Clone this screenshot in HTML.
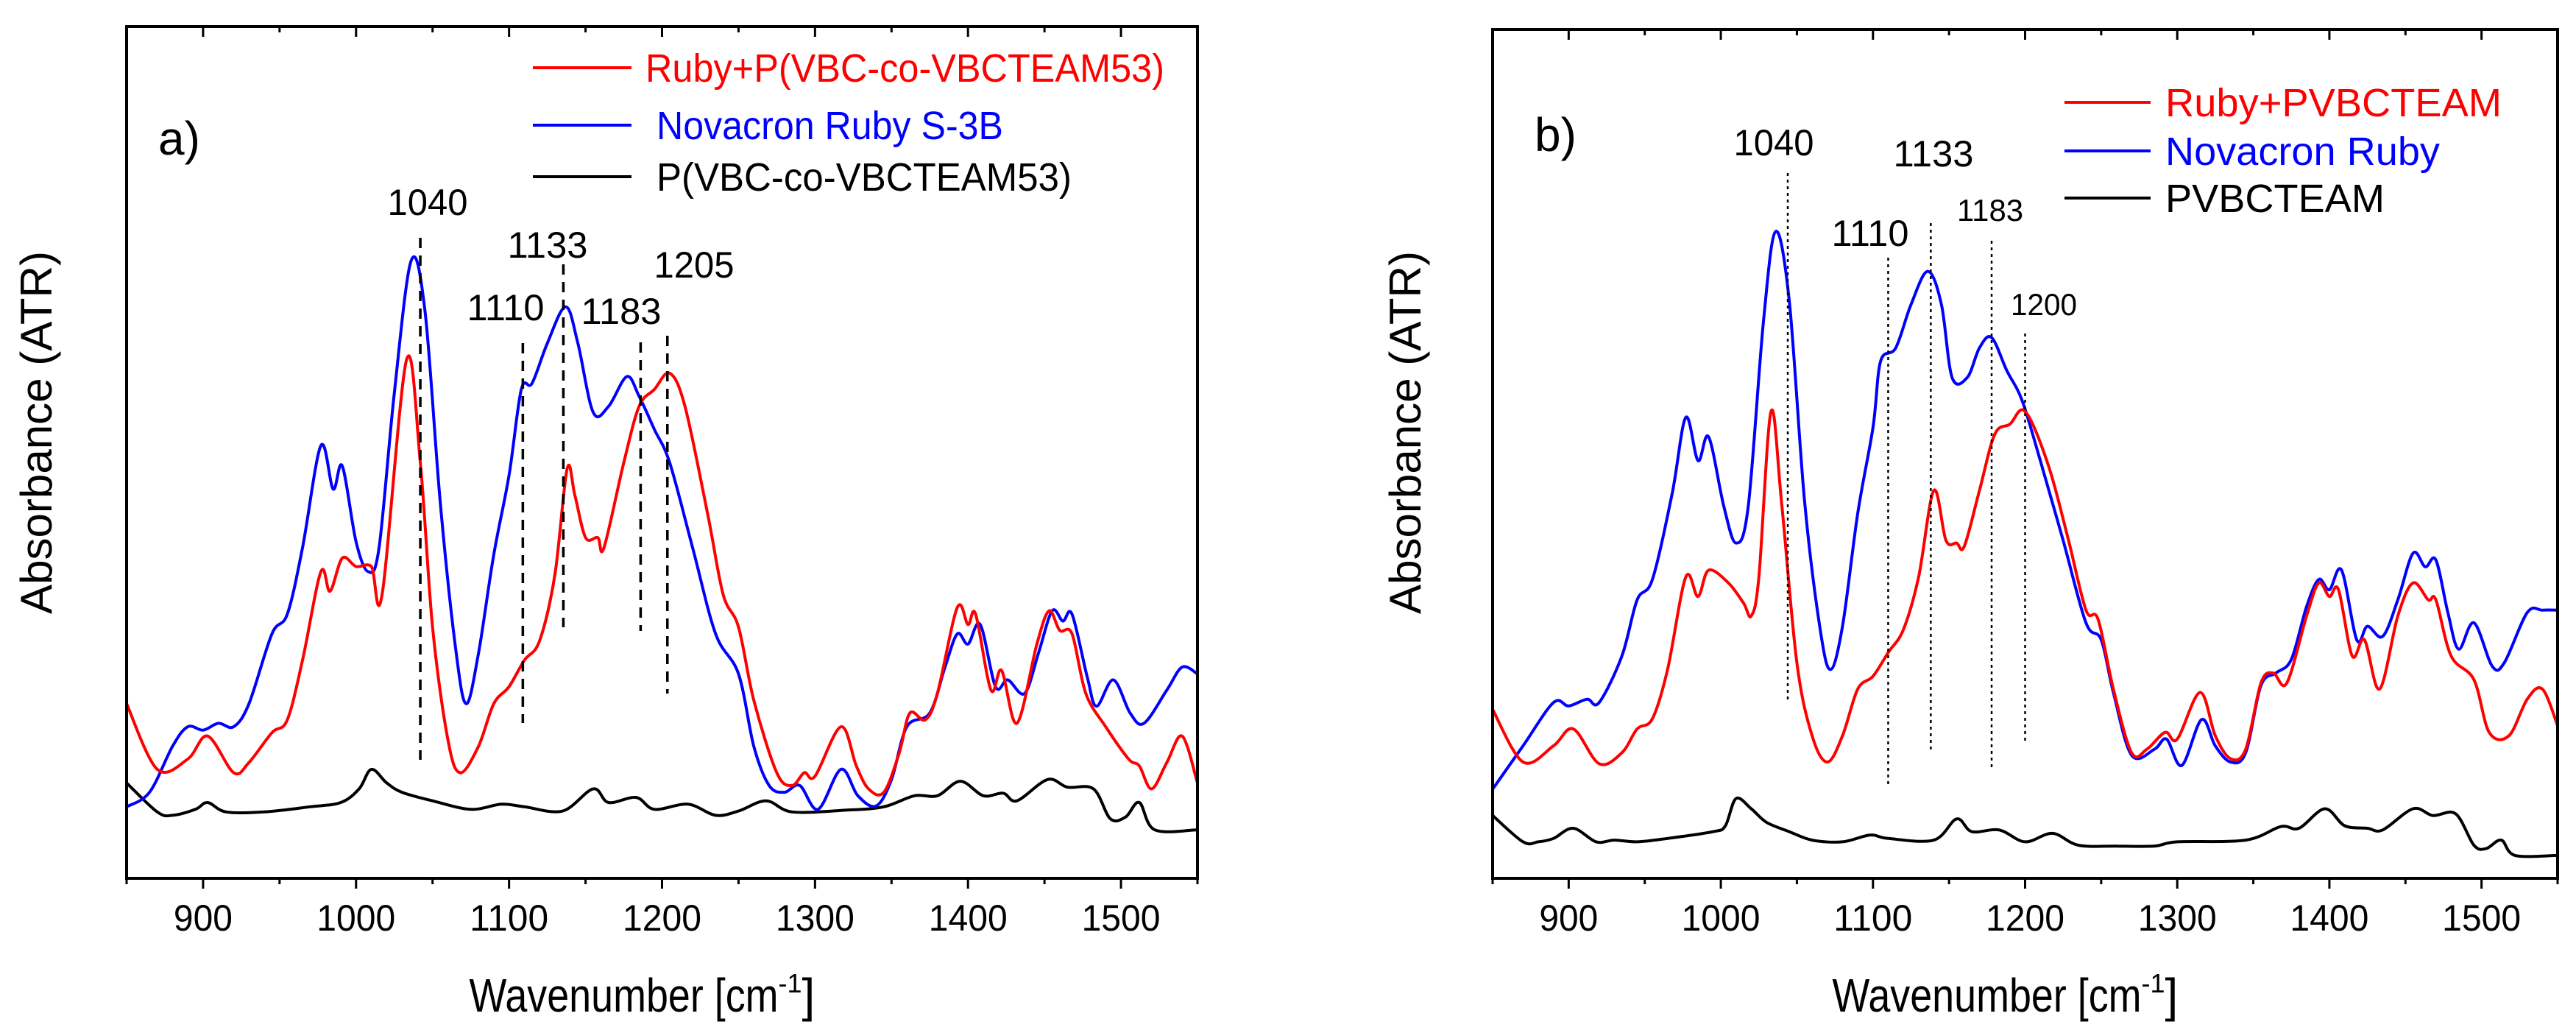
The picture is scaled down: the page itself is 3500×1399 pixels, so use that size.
<!DOCTYPE html>
<html><head><meta charset="utf-8"><style>
html,body{margin:0;padding:0;background:#fff;}
svg{display:block;font-family:"Liberation Sans",Arial,sans-serif;}
</style></head><body>
<svg id="fig" width="3500" height="1399" viewBox="0 0 3500 1399" xmlns="http://www.w3.org/2000/svg"></svg>
<script>
const xTicks = [900,1000,1100,1200,1300,1400,1500];
const wnA = [850,870,890,903,920,930,945,955,965,977,983,991,1000,1010,1017,1033,1042,1050,1060,1068,1080,1090,1100,1110,1120,1130,1138,1143,1150,1158,1162,1175,1185,1195,1205,1215,1230,1240,1250,1260,1275,1285,1293,1300,1317,1327,1335,1345,1355,1362,1372,1380,1393,1400,1405,1415,1422,1432,1445,1453,1460,1468,1477,1490,1505,1512,1520,1530,1540,1550];
const redA = [.205,.128,.14,.167,.124,.136,.171,.186,.256,.36,.337,.376,.366,.366,.333,.609,.488,.295,.163,.124,.155,.205,.225,.256,.279,.357,.481,.45,.4,.4,.388,.488,.554,.574,.593,.554,.426,.333,.295,.209,.124,.109,.124,.12,.178,.132,.105,.101,.147,.194,.186,.217,.318,.298,.31,.221,.244,.182,.275,.314,.291,.287,.217,.178,.14,.132,.105,.136,.167,.112];
const wnAb = [850,865,880,890,900,910,920,930,945,955,965,977,985,991,1000,1008,1015,1025,1036,1045,1055,1065,1072,1080,1090,1100,1108,1115,1125,1137,1145,1155,1165,1177,1185,1195,1205,1220,1235,1250,1260,1270,1280,1290,1302,1317,1328,1340,1350,1360,1375,1385,1393,1400,1408,1418,1426,1437,1446,1455,1462,1468,1478,1484,1495,1506,1515,1530,1540,1550];
const blueA = [.084,.101,.155,.178,.174,.182,.178,.205,.287,.31,.388,.508,.457,.484,.395,.36,.388,.57,.725,.667,.442,.271,.205,.264,.38,.473,.574,.581,.628,.671,.628,.547,.554,.589,.566,.527,.488,.388,.287,.24,.155,.109,.101,.109,.081,.128,.097,.085,.116,.178,.194,.248,.287,.275,.298,.225,.233,.217,.264,.314,.302,.31,.236,.202,.233,.194,.182,.221,.248,.24];
const wnAk = [850,870,880,895,903,915,940,970,990,1002,1010,1020,1030,1050,1075,1095,1110,1135,1155,1165,1183,1195,1217,1235,1250,1268,1285,1320,1345,1365,1380,1395,1410,1423,1432,1452,1465,1482,1493,1503,1512,1522,1550];
const blackA = [.112,.078,.074,.081,.089,.078,.078,.084,.089,.105,.128,.112,.101,.091,.081,.087,.084,.079,.105,.089,.095,.081,.087,.074,.079,.091,.078,.08,.084,.097,.097,.114,.097,.1,.091,.116,.107,.105,.07,.072,.089,.057,.057];
const wnBr = [850,870,890,903,920,935,945,955,965,977,985,992,1005,1015,1020,1025,1033,1040,1050,1060,1070,1080,1090,1100,1110,1120,1130,1140,1148,1155,1160,1170,1180,1190,1200,1215,1228,1240,1248,1258,1270,1280,1292,1300,1315,1325,1335,1345,1355,1363,1372,1385,1393,1400,1406,1415,1423,1433,1445,1455,1465,1470,1480,1495,1505,1518,1530,1540,1550];
const redB = [.199,.137,.156,.176,.135,.148,.176,.188,.246,.355,.332,.363,.348,.324,.309,.355,.55,.441,.254,.168,.137,.168,.223,.238,.266,.293,.355,.457,.398,.395,.391,.457,.523,.535,.55,.488,.402,.316,.305,.223,.148,.152,.172,.164,.219,.168,.141,.152,.23,.242,.23,.309,.348,.332,.34,.262,.281,.223,.309,.348,.328,.328,.262,.234,.172,.168,.211,.223,.18];
const wnBb = [850,870,890,900,912,920,935,945,955,968,977,985,992,1002,1010,1018,1028,1036,1045,1055,1065,1072,1080,1090,1100,1105,1115,1125,1136,1145,1152,1162,1170,1178,1188,1198,1210,1225,1240,1250,1258,1270,1285,1293,1303,1316,1325,1335,1345,1355,1365,1375,1385,1393,1400,1408,1418,1425,1435,1445,1455,1463,1470,1478,1485,1495,1507,1515,1530,1540,1550];
const blueB = [.105,.156,.207,.203,.211,.207,.262,.328,.352,.453,.543,.492,.52,.438,.395,.438,.656,.762,.68,.445,.297,.246,.297,.43,.531,.609,.625,.676,.715,.676,.59,.59,.625,.637,.598,.563,.492,.398,.301,.281,.219,.145,.152,.164,.133,.187,.156,.137,.148,.227,.242,.258,.32,.352,.34,.363,.281,.297,.285,.328,.383,.367,.375,.312,.27,.301,.25,.254,.313,.316,.316];
const wnBk = [850,870,880,890,903,918,930,945,965,995,1003,1010,1020,1030,1045,1060,1080,1098,1110,1140,1155,1165,1183,1200,1218,1235,1260,1285,1300,1345,1368,1380,1397,1410,1425,1435,1455,1468,1483,1495,1503,1513,1522,1550];
const blackB = [.074,.043,.043,.047,.059,.043,.045,.043,.047,.055,.062,.094,.082,.066,.055,.045,.043,.051,.047,.045,.07,.055,.057,.043,.053,.039,.038,.038,.043,.045,.061,.059,.082,.062,.059,.057,.082,.074,.076,.039,.035,.045,.027,.027];

const NS='http://www.w3.org/2000/svg';
const svg=document.getElementById('fig');
function mk(tag,attrs,parent){const e=document.createElementNS(NS,tag);for(const k in attrs)e.setAttribute(k,attrs[k]);(parent||svg).appendChild(e);return e;}

function panel(p){
  const g=mk('g',{});
  
  
  const xs=v=>p.x0+(v-850)/700*(p.x1-p.x0);
  const ys=f=>p.y1-f*(p.y1-p.y0);
  const clip=mk('clipPath',{id:'clip'+p.id},g);
  mk('rect',{x:p.x0,y:p.y0,width:p.x1-p.x0,height:p.y1-p.y0},clip);
  const cg=mk('g',{'clip-path':'url(#clip'+p.id+')'},g);
  function curveInto(parent,wn,vals,color,name){
    const pts=wn.map((w,i)=>[xs(w),ys(vals[i])]);
    let d='M'+pts[0][0].toFixed(1)+','+pts[0][1].toFixed(1);
    for(let i=0;i<pts.length-1;i++){
      const p0=pts[Math.max(0,i-1)],p1=pts[i],p2=pts[i+1],p3=pts[Math.min(pts.length-1,i+2)];
      const c1=[p1[0]+(p2[0]-p0[0])/6,p1[1]+(p2[1]-p0[1])/6];
      const c2=[p2[0]-(p3[0]-p1[0])/6,p2[1]-(p3[1]-p1[1])/6];
      d+=' C'+c1[0].toFixed(1)+','+c1[1].toFixed(1)+' '+c2[0].toFixed(1)+','+c2[1].toFixed(1)+' '+p2[0].toFixed(1)+','+p2[1].toFixed(1);
    }
    const e=mk('path',{d:d,fill:'none',stroke:color,'stroke-width':4,'stroke-linejoin':'round'},parent);
    
    
  }
  p.series.forEach(s=>curveInto(cg,s[0],s[1],s[2],s[3]));
  p.marks.forEach(m=>{
    const l=mk('line',{x1:xs(m.wn),x2:xs(m.wn),y1:m.ya,y2:m.yb,stroke:'#000','stroke-width':p.dashW,'stroke-dasharray':p.dash},g);
    
    
    const t=mk('text',{x:m.tx-m.tl/2,y:m.ty,'font-size':m.fs,textLength:m.tl,lengthAdjust:'spacingAndGlyphs',fill:'#000'},g);
    t.textContent=m.label;
    
    
  });
  const fr=mk('rect',{x:p.x0,y:p.y0,width:p.x1-p.x0,height:p.y1-p.y0,fill:'none',stroke:'#000','stroke-width':4},g);
  
  
  for(let v=850;v<=1550;v+=50){
    const major=v%100===0, L=major?14:8;
    mk('line',{x1:xs(v),x2:xs(v),y1:p.y1,y2:p.y1+L,stroke:'#000','stroke-width':3},g);
    mk('line',{x1:xs(v),x2:xs(v),y1:p.y0,y2:p.y0+L,stroke:'#000','stroke-width':3},g);
  }
  xTicks.forEach(v=>{
    const w=String(v).length===3?80:107;
    const t=mk('text',{x:xs(v)-w/2,y:1264,'font-size':50,textLength:w,lengthAdjust:'spacingAndGlyphs',fill:'#000'},g);
    t.textContent=v;
    
    
  });
  const cx=(p.x0+p.x1)/2;
  const xl=mk('text',{x:cx-262,y:1374,'font-size':64,fill:'#000'},g);
  xl.innerHTML='<tspan textLength="420" lengthAdjust="spacingAndGlyphs">Wavenumber [cm</tspan><tspan dy="-26" font-size="36">-1</tspan><tspan dy="26">]</tspan>';
  
  
  const yl=mk('text',{x:-246,y:0,'font-size':60,textLength:493,lengthAdjust:'spacingAndGlyphs',fill:'#000',transform:'translate('+p.ylx+',588) rotate(-90)'},g);
  yl.textContent='Absorbance (ATR)';
  
  
  const pl=mk('text',{x:p.plx,y:p.ply,'font-size':64,fill:'#000'},g);
  pl.textContent=p.label;
  
  
  p.legend.forEach((l,i)=>{
    const ln=mk('line',{x1:p.lgx0,x2:p.lgx1,y1:p.lgy[i],y2:p.lgy[i],stroke:l[1],'stroke-width':4},g);
    
    
    const t=mk('text',{x:l[2],y:p.lgy[i]+19,'font-size':54,textLength:l[3],lengthAdjust:'spacingAndGlyphs',fill:l[1]},g);
    t.textContent=l[0];
    
    
  });
}

panel({id:'a',name:'panel-a',label:'a)',x0:172,x1:1627,y0:36,y1:1193,ylx:70,plx:215,ply:210,
  dash:'14,10',dashW:3.5,
  series:[[wnAk,blackA,'#000','series-polymer-a'],[wnAb,blueA,'#0000ff','series-novacron-a'],[wnA,redA,'#ff0000','series-ruby-polymer-a']],
  marks:[{wn:1042,ya:323,yb:1032,label:'1040',tx:581,ty:292,fs:50,tl:109},
         {wn:1109,ya:466,yb:982,label:'1110',tx:687,ty:435,fs:50,tl:105},
         {wn:1135.5,ya:359,yb:852,label:'1133',tx:744,ty:350,fs:50,tl:109},
         {wn:1186,ya:465,yb:857,label:'1183',tx:844,ty:440,fs:50,tl:109},
         {wn:1203.5,ya:456,yb:942,label:'1205',tx:943,ty:377,fs:50,tl:109}],
  legend:[['Ruby+P(VBC-co-VBCTEAM53)','#ff0000',877,705],['Novacron Ruby S-3B','#0000ff',892,471],['P(VBC-co-VBCTEAM53)','#000',892,564]],
  lgx0:724,lgx1:858,lgy:[92,170,240]});
panel({id:'b',name:'panel-b',label:'b)',x0:2028,x1:3475,y0:40,y1:1193,ylx:1930,plx:2085,ply:205,
  dash:'4,5',dashW:2.5,
  series:[[wnBk,blackB,'#000','series-polymer-b'],[wnBb,blueB,'#0000ff','series-novacron-b'],[wnBr,redB,'#ff0000','series-ruby-polymer-b']],
  marks:[{wn:1044,ya:235,yb:951,label:'1040',tx:2410,ty:211,fs:50,tl:109},
         {wn:1110,ya:350,yb:1067,label:'1110',tx:2541,ty:334,fs:50,tl:105},
         {wn:1138,ya:303,yb:1023,label:'1133',tx:2627,ty:226,fs:50,tl:109},
         {wn:1178,ya:327,yb:1045,label:'1183',tx:2704,ty:300,fs:42,tl:90},
         {wn:1200,ya:453,yb:1009,label:'1200',tx:2777,ty:428,fs:42,tl:90}],
  legend:[['Ruby+PVBCTEAM','#ff0000',2942,457],['Novacron Ruby','#0000ff',2942,373],['PVBCTEAM','#000',2942,298]],
  lgx0:2805,lgx1:2922,lgy:[139,205,269]});
</script>
</body></html>
